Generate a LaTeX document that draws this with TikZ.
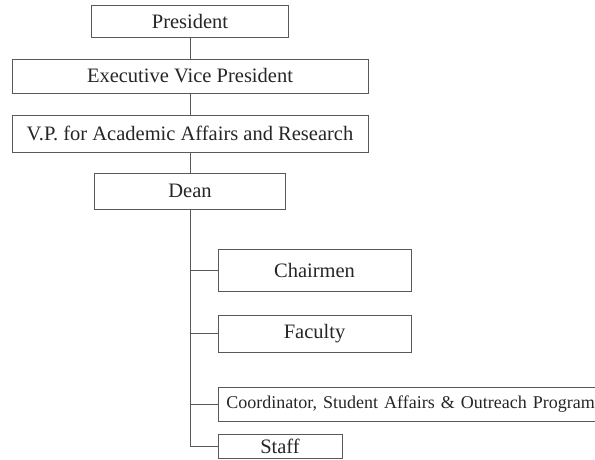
\documentclass[tikz,border=0pt]{standalone}
\usepackage{fontspec}
\setmainfont{Liberation Serif}
\usepackage{tikz}

\begin{document}
\begin{tikzpicture}[x=1pt,y=-1pt,
    box/.style={draw=black!65, line width=0.8pt, rectangle, inner sep=0pt,
                text=black!85, font=\fontsize{20.5}{24}\selectfont},
    link/.style={draw=black!65, line width=0.8pt}]
  \useasboundingbox (0,0) rectangle (595,459);

  % upper chain
  \node[box, minimum width=197, minimum height=32] (pres) at (190,21) {President};
  \node[box, minimum width=356, minimum height=34] (evp) at (190,76) {Executive Vice President};
  \node[box, minimum width=356, minimum height=37] (vpaa) at (190,133.5) {V.P.\ for Academic Affairs and Research};
  \node[box, minimum width=191, minimum height=36] (dean) at (190,191) {Dean};

  \draw[link] (pres) -- (evp);
  \draw[link] (evp) -- (vpaa);
  \draw[link] (vpaa) -- (dean);

  % units under the dean
  \node[box, minimum width=193, minimum height=42] (chair) at (314.5,270) {Chairmen};
  \node[box, minimum width=193, minimum height=37] (fac) at (314.5,333.5) {Faculty};
  \node[box, anchor=west, minimum height=34, inner xsep=8pt, text width=395,
        font=\fontsize{18}{21}\selectfont] (coord) at (218,404)
        {Coordinator, Student Affairs \& Outreach Program};
  \node[box, minimum width=124, minimum height=24] (staff) at (280,446) {Staff};

  \draw[link] (dean.south) |- (staff.west);
  \draw[link] (dean.south) |- (chair.west);
  \draw[link] (dean.south) |- (fac.west);
  \draw[link] (dean.south) |- (coord.west);

\end{tikzpicture}
\end{document}
